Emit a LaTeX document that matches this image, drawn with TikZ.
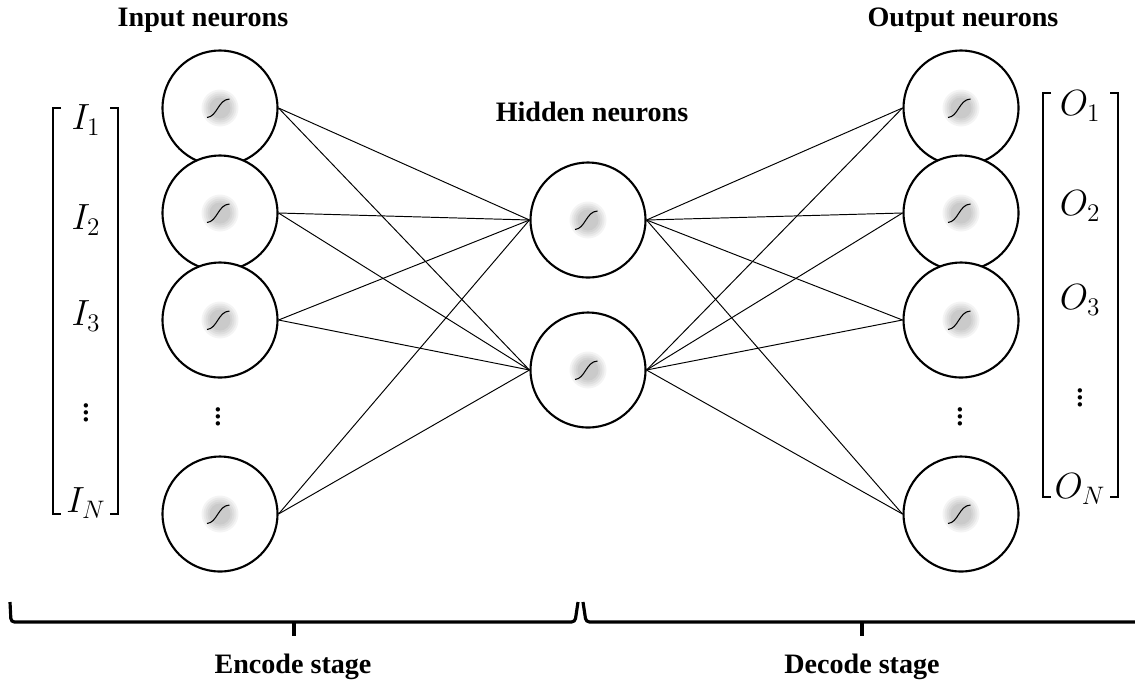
\documentclass[tikz,border=0pt]{standalone}
\usepackage{amsmath}
\usepackage{fontspec}
\setmainfont{Liberation Serif}
\usepackage{tikz}
\usetikzlibrary{positioning, calc}
\tikzset{
	neuron/.style  ={circle, draw=black, line width=1.2pt, fill=white, minimum size=2.3cm, inner sep=0pt,
		path picture={
			\coordinate (pc) at (path picture bounding box.center);
			\foreach \r in {0.37,0.33,0.29,0.25,0.21}
				\fill[black, opacity=0.045] (pc) circle (\r cm);
			\draw[line width=0.6pt] ($(pc)+(-0.26cm,-0.19cm)$) .. controls ($(pc)+(-0.05cm,-0.17cm)$) and ($(pc)+(-0.04cm,0.17cm)$) .. ($(pc)+(0.19cm,0.18cm)$);
		}},
	conn/.style    ={line width=0.55pt},
	title/.style   ={font=\fontsize{16}{18}\selectfont\bfseries},
	vlabel/.style  ={font=\fontsize{21}{24}\selectfont, inner sep=0pt},
	bracket/.style ={line width=1.5pt},
	stage/.style   ={line width=1.8pt, rounded corners=2pt},
}
\begin{document}
\begin{tikzpicture}[x=0.02cm, y=-0.02cm]
	\useasboundingbox (0,0) rectangle (1135,691);
	% neurons
	\foreach \n/\y in {1/108, 2/213, 3/320, N/514} {
		\node[neuron] (i\n) at (220,\y) {};
		\node[neuron] (o\n) at (961,\y) {};
	}
	\node[neuron] (h1) at (588,220) {};
	\node[neuron] (h2) at (588,370) {};
	\node[vlabel] (idots) at (218,412) {$\vdots$};
	\node[vlabel] (odots) at (960,412) {$\vdots$};
	% connections
	\foreach \a in {i1, i2, i3, iN}
		\foreach \b in {h1, h2}
			\draw[conn] (\a.east) -- (\b.west);
	\foreach \a in {h1, h2}
		\foreach \b in {o1, o2, o3, oN}
			\draw[conn] (\a.east) -- (\b.west);
	% titles
	\node[title] (tin)  at (203,20)  {Input neurons};
	\node[title] (thid) at (592,112) {Hidden neurons};
	\node[title] (tout) at (963,20)  {Output neurons};
	% input / output vectors
	\foreach \n/\y/\l in {1/120/{I_1}, 2/220/{I_2}, 3/316/{I_3}, d/408/{\vdots}, N/503/{I_N}}
		\node[vlabel] (vi\n) at (86,\y) {$\l$};
	\foreach \n/\y/\l in {1/106/{O_1}, 2/206/{O_2}, 3/300/{O_3}, d/393/{\vdots}, N/489/{O_N}}
		\node[vlabel] (vo\n) at (1080,\y) {$\l$};
	\draw[bracket] (61,108) -- (53,108) -- (53,514) -- (61,514);
	\draw[bracket] (110,108) -- (118,108) -- (118,514) -- (110,514);
	\draw[bracket] (1051,93) -- (1043,93) -- (1043,497) -- (1051,497);
	\draw[bracket] (1110,93) -- (1118,93) -- (1118,497) -- (1110,497);
	% stages
	\draw[stage] (10,602) -- (11,622) -- (575,622) -- (578,602);
	\draw[stage] (583,602) -- (586,622) -- (1140,622);
	\draw[line width=2pt] (294,621) -- (294,636);
	\draw[line width=2pt] (862,621) -- (862,636);
	\node[title] (tenc) at (293,667) {Encode stage};
	\node[title] (tdec) at (862,667) {Decode stage};
\end{tikzpicture}
\end{document}
